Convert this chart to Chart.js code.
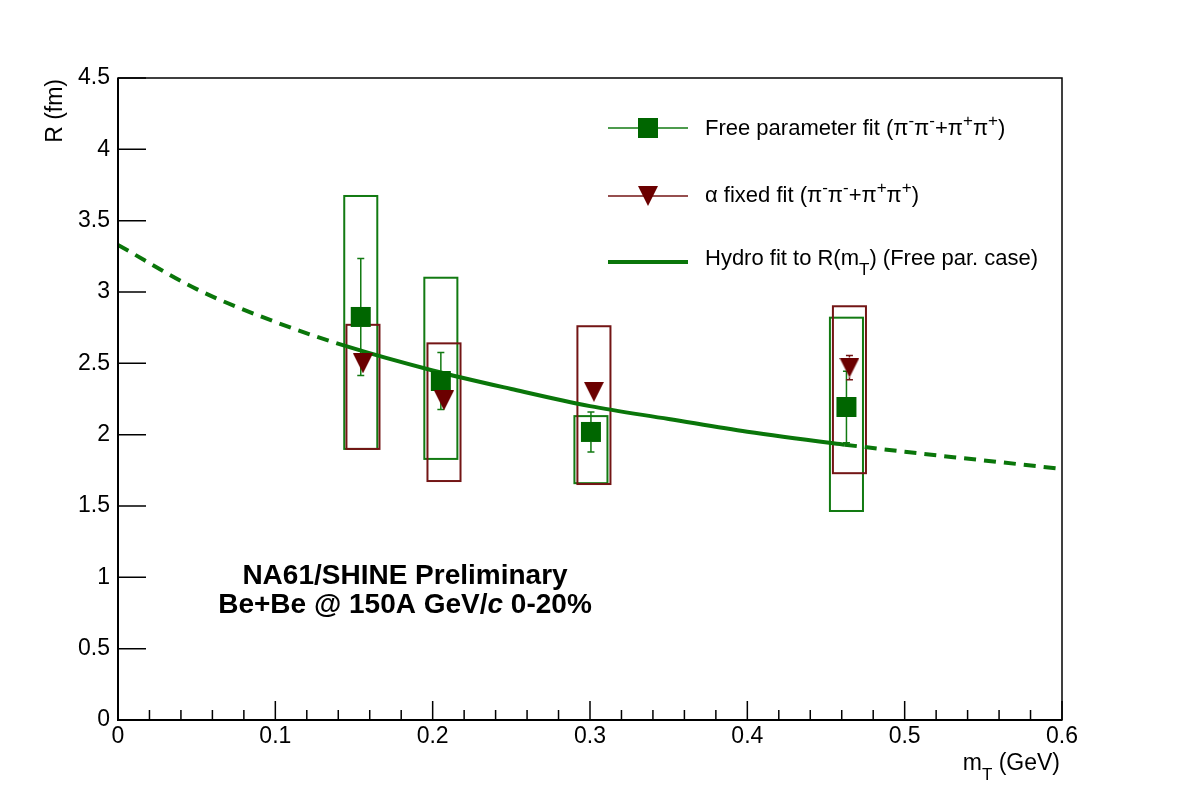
<!DOCTYPE html>
<html>
<head>
<meta charset="utf-8">
<script src="https://cdn.jsdelivr.net/npm/chart.js@4.4.0/dist/chart.umd.min.js"></script>
<style>
  html, body { margin: 0; padding: 0; background: #fff; }
  canvas { display: block; }
</style>
</head>
<body>
<canvas id="chart" width="1182" height="800"></canvas>
<script>
// Free parameter fit (pi-pi- + pi+pi+), squares
const freeX = [0.1543, 0.2052, 0.3006, 0.4630];
const freeY = [2.825, 2.376, 2.019, 2.194];
const freeErr = [0.41, 0.20, 0.14, 0.25];
const freeSysLo = [1.90, 1.83, 1.66, 1.465];
const freeSysHi = [3.673, 3.10, 2.13, 2.82];

// alpha fixed fit, triangles
const alphaX = [0.1557, 0.2072, 0.3025, 0.4649];
const alphaY = [2.50, 2.24, 2.30, 2.47];
const alphaErr = [0.05, 0.05, 0.05, 0.085];
const alphaSysLo = [1.90, 1.675, 1.654, 1.73];
const alphaSysHi = [2.77, 2.64, 2.76, 2.90];

// hydro fit curve
const hydroX = [0, 0.05, 0.1, 0.145, 0.2, 0.25, 0.3, 0.35, 0.4, 0.462, 0.5, 0.55, 0.6];
const hydroY = [3.33, 3.02, 2.79, 2.62, 2.45, 2.32, 2.20, 2.11, 2.02, 1.93, 1.88, 1.82, 1.76];
const fitRange = [0.145, 0.462];

const GREEN = '#006600';
const GREEN_LINE = '#127a12';
const RED = '#6b0000';
const RED_LINE = '#731515';
const FONT = '"Liberation Sans", Arial, Helvetica, sans-serif';

const sysHalfWidth = 0.0105;

// downward triangle marker, centred on its bounding box like ROOT does
const tri = document.createElement('canvas');
tri.width = 20; tri.height = 20;
(function () {
  let c = tri.getContext('2d');
  c.fillStyle = RED;
  c.beginPath();
  c.moveTo(0, 0); c.lineTo(20, 0); c.lineTo(10, 20); c.closePath();
  c.fill();
})();

function toPts(xs, ys) {
  return xs.map((x, i) => ({x: x, y: ys[i]}));
}

function drawRich(ctx, parts, x, y, size, align, bold) {
  const fontFor = p => (p.i ? 'italic ' : '') + (bold ? 'bold ' : '') +
    Math.round(p.s ? size * 0.75 : size) + 'px ' + FONT;
  let total = 0;
  parts.forEach(p => { ctx.font = fontFor(p); p.w = ctx.measureText(p.t).width; total += p.w; });
  let cx = align === 'center' ? x - total / 2 : align === 'right' ? x - total : x;
  ctx.textAlign = 'left';
  ctx.textBaseline = 'alphabetic';
  parts.forEach(p => {
    ctx.font = fontFor(p);
    let dy = p.s === 'sup' ? -size * 0.42 : p.s === 'sub' ? size * 0.45 : 0;
    ctx.fillText(p.t, cx, y + dy);
    cx += p.w;
  });
}

const boxesPlugin = {
  id: 'boxes',
  beforeDatasetsDraw(chart) {
    const {ctx, scales: {x, y}} = chart;
    ctx.save();
    const drawSet = (xs, ys, errs, lo, hi, col, half) => {
      ctx.strokeStyle = col;
      ctx.lineWidth = 2;
      xs.forEach((v, i) => {
        let l = x.getPixelForValue(v - sysHalfWidth), r = x.getPixelForValue(v + sysHalfWidth);
        let t = y.getPixelForValue(hi[i]), b = y.getPixelForValue(lo[i]);
        ctx.strokeRect(l, t, r - l, b - t);
      });
      ctx.lineWidth = 1.5;
      xs.forEach((v, i) => {
        let px = x.getPixelForValue(v), py = y.getPixelForValue(ys[i]);
        let top = y.getPixelForValue(ys[i] + errs[i]), bot = y.getPixelForValue(ys[i] - errs[i]);
        ctx.beginPath();
        if (py - top > half) {
          ctx.moveTo(px, py - half); ctx.lineTo(px, top);
          ctx.moveTo(px - 3.5, top); ctx.lineTo(px + 3.5, top);
        }
        if (bot - py > half) {
          ctx.moveTo(px, py + half); ctx.lineTo(px, bot);
          ctx.moveTo(px - 3.5, bot); ctx.lineTo(px + 3.5, bot);
        }
        ctx.stroke();
      });
    };
    drawSet(freeX, freeY, freeErr, freeSysLo, freeSysHi, GREEN_LINE, 10);
    drawSet(alphaX, alphaY, alphaErr, alphaSysLo, alphaSysHi, RED_LINE, 10);
    ctx.restore();
  }
};

const framePlugin = {
  id: 'frame',
  afterDraw(chart) {
    const {ctx, chartArea: a, scales: {x, y}} = chart;
    ctx.save();
    ctx.strokeStyle = '#000';
    // frame
    ctx.lineWidth = 1.5;
    ctx.strokeRect(a.left, a.top, a.right - a.left, a.bottom - a.top);
    ctx.lineWidth = 2;
    ctx.beginPath();
    ctx.moveTo(a.left, a.top); ctx.lineTo(a.left, a.bottom); ctx.lineTo(a.right, a.bottom);
    ctx.stroke();
    // ticks, pointing inward
    ctx.lineWidth = 1.5;
    ctx.beginPath();
    y.ticks.forEach(t => {
      let py = y.getPixelForValue(t.value);
      ctx.moveTo(a.left, py); ctx.lineTo(a.left + 28, py);
    });
    for (let v = x.min; v <= x.max + 1e-9; v += 0.02) {
      let px = x.getPixelForValue(v);
      let major = Math.abs(v * 10 - Math.round(v * 10)) < 1e-6;
      ctx.moveTo(px, a.bottom); ctx.lineTo(px, a.bottom - (major ? 19 : 10));
    }
    ctx.stroke();

    ctx.fillStyle = '#000';
    // axis titles
    ctx.save();
    ctx.translate(62, a.top + 1);
    ctx.rotate(-Math.PI / 2);
    drawRich(ctx, [{t: 'R (fm)'}], 0, 0, 23, 'right');
    ctx.restore();
    drawRich(ctx, [{t: 'm'}, {t: 'T', s: 'sub'}, {t: ' (GeV)'}], 1060, 770, 23, 'right');

    // legend
    const lx0 = 608, lx1 = 688, mx = 648, tx = 705;
    ctx.lineWidth = 1.5;
    ctx.strokeStyle = GREEN_LINE;
    ctx.beginPath(); ctx.moveTo(lx0, 128); ctx.lineTo(lx1, 128); ctx.stroke();
    ctx.fillStyle = GREEN;
    ctx.fillRect(mx - 10, 118, 20, 20);
    ctx.strokeStyle = RED_LINE;
    ctx.beginPath(); ctx.moveTo(lx0, 196); ctx.lineTo(lx1, 196); ctx.stroke();
    ctx.drawImage(tri, mx - 10, 186);
    ctx.strokeStyle = '#0a760a';
    ctx.lineWidth = 4;
    ctx.beginPath(); ctx.moveTo(lx0, 262); ctx.lineTo(lx1, 262); ctx.stroke();

    ctx.fillStyle = '#000';
    const pions = [{t: '(\u03c0'}, {t: '-', s: 'sup'}, {t: '\u03c0'}, {t: '-', s: 'sup'},
      {t: '+\u03c0'}, {t: '+', s: 'sup'}, {t: '\u03c0'}, {t: '+', s: 'sup'}, {t: ')'}];
    drawRich(ctx, [{t: 'Free parameter fit '}].concat(pions.map(p => Object.assign({}, p))), tx, 135, 22, 'left');
    drawRich(ctx, [{t: '\u03b1 fixed fit '}].concat(pions.map(p => Object.assign({}, p))), tx, 202, 22, 'left');
    drawRich(ctx, [{t: 'Hydro fit to R(m'}, {t: 'T', s: 'sub'}, {t: ') (Free par. case)'}], tx, 265, 22, 'left');

    // label
    drawRich(ctx, [{t: 'NA61/SHINE Preliminary'}], 405, 584, 28, 'center', true);
    drawRich(ctx, [{t: 'Be+Be @ 150A GeV/'}, {t: 'c', i: true}, {t: ' 0-20%'}], 405, 613, 28, 'center', true);
    ctx.restore();
  }
};

const chart = new Chart(document.getElementById('chart'), {
  type: 'scatter',
  data: {
    datasets: [
      {
        label: 'Hydro fit to R(mT) (Free par. case)',
        type: 'line',
        data: toPts(hydroX, hydroY),
        borderColor: '#0a760a',
        borderWidth: 4,
        pointRadius: 0,
        fill: false,
        cubicInterpolationMode: 'monotone',
        segment: {
          borderDash: c => (c.p0.parsed.x >= fitRange[0] - 1e-9 && c.p1.parsed.x <= fitRange[1] + 1e-9) ? [] : [12, 8]
        },
        order: 3
      },
      {
        label: 'Free parameter fit',
        data: toPts(freeX, freeY),
        pointStyle: 'rect',
        pointRadius: 14.14,
        pointBorderWidth: 0,
        backgroundColor: GREEN,
        order: 2
      },
      {
        label: 'alpha fixed fit',
        data: toPts(alphaX, alphaY),
        pointStyle: tri,
        pointRadius: 10,
        order: 1
      }
    ]
  },
  options: {
    responsive: false,
    animation: false,
    events: [],
    layout: {padding: {left: 0, top: 78, right: 120, bottom: 0}},
    plugins: {legend: {display: false}, tooltip: {enabled: false}},
    scales: {
      x: {
        type: 'linear',
        min: 0, max: 0.6,
        grid: {display: false, drawTicks: false},
        border: {display: false},
        ticks: {stepSize: 0.1, padding: 3, color: '#000', font: {family: FONT, size: 23}, maxRotation: 0,
          callback: v => String(Number(v.toFixed(3)))},
        afterFit: s => { s.height = 80; }
      },
      y: {
        min: 0, max: 4.5,
        grid: {display: false, drawTicks: false},
        border: {display: false},
        ticks: {stepSize: 0.5, padding: 8, color: '#000', font: {family: FONT, size: 23},
          callback: v => String(Number(v.toFixed(3)))},
        afterFit: s => { s.width = 118; }
      }
    }
  },
  plugins: [boxesPlugin, framePlugin]
});
</script>
</body>
</html>
